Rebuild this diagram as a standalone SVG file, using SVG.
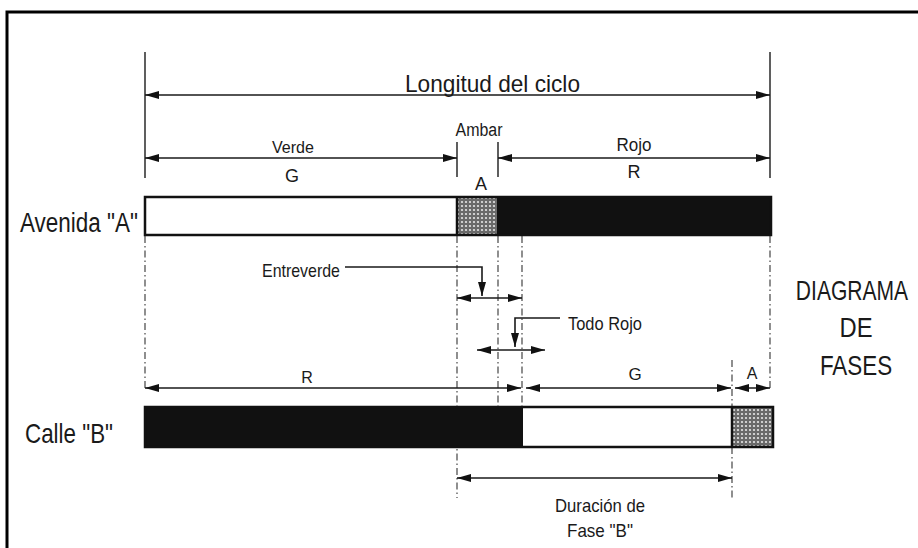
<svg xmlns="http://www.w3.org/2000/svg" width="918" height="548" viewBox="0 0 918 548">
<style>
  text { font-family: "Liberation Sans", Arial, sans-serif; fill: #1a1a1a; }
  .dim { stroke: #1a1a1a; stroke-width: 1.6; fill: none; }
  .ext { stroke: #1a1a1a; stroke-width: 1.4; fill: none; }
  .dash { stroke: #333; stroke-width: 1.1; fill: none; stroke-dasharray: 7 3 1.5 3; }
  .barline { stroke: #111; stroke-width: 2.5; }
</style>
<defs>
  <marker id="ah" viewBox="0 0 14 8" refX="14" refY="4" markerWidth="14" markerHeight="8" markerUnits="userSpaceOnUse" orient="auto-start-reverse">
    <path d="M0,0 L14,4 L0,8 z" fill="#111"/>
  </marker>
  <pattern id="stip" width="4" height="4" patternUnits="userSpaceOnUse">
    <rect width="4" height="4" fill="#6a6a6a"/>
    <circle cx="2" cy="2" r="1.1" fill="#e6e6e6"/>
  </pattern>
</defs>
<rect x="0" y="0" width="918" height="548" fill="#fff"/>
<rect x="7" y="12" width="930" height="560" fill="none" stroke="#000" stroke-width="3"/>

<g id="connectors">
  <line class="ext" x1="145" y1="52" x2="145" y2="178"/>
  <line class="ext" x1="770" y1="52" x2="770" y2="178"/>
  <line class="ext" x1="457" y1="142" x2="457" y2="177"/>
  <line class="ext" x1="498" y1="142" x2="498" y2="177"/>
  <line class="dim" x1="145" y1="95" x2="770" y2="95" marker-start="url(#ah)" marker-end="url(#ah)"/>
  <line class="dim" x1="145" y1="158" x2="457" y2="158" marker-start="url(#ah)" marker-end="url(#ah)"/>
  <line class="dim" x1="498" y1="158" x2="770" y2="158" marker-start="url(#ah)" marker-end="url(#ah)"/>
  <line class="dash" x1="145" y1="236" x2="145" y2="388"/>
  <line class="dash" x1="457" y1="236" x2="457" y2="498"/>
  <line class="dash" x1="498" y1="236" x2="498" y2="407"/>
  <line class="dash" x1="522" y1="236" x2="522" y2="407"/>
  <line class="dash" x1="770" y1="236" x2="770" y2="388"/>
  <line class="dash" x1="732" y1="360" x2="732" y2="498"/>
  <polyline class="dim" points="345,267 482,267 482,296" marker-end="url(#ah)"/>
  <line class="dim" x1="457" y1="298" x2="522" y2="298" marker-start="url(#ah)" marker-end="url(#ah)"/>
  <polyline class="dim" points="560,318 515,318 515,347" marker-end="url(#ah)"/>
  <line class="dim" x1="477" y1="350" x2="545" y2="350" marker-start="url(#ah)" marker-end="url(#ah)"/>
  <line class="dim" x1="145" y1="388" x2="521" y2="388" marker-start="url(#ah)" marker-end="url(#ah)"/>
  <line class="dim" x1="526" y1="388" x2="731" y2="388" marker-start="url(#ah)" marker-end="url(#ah)"/>
  <line class="dim" x1="735" y1="388" x2="770" y2="388" marker-start="url(#ah)" marker-end="url(#ah)"/>
  <line class="dim" x1="457" y1="478" x2="732" y2="478" marker-start="url(#ah)" marker-end="url(#ah)"/>
</g>

<g id="bar-avenida-a">
  <rect x="145" y="197" width="312" height="38" fill="#fff"/>
  <rect x="457" y="197" width="40" height="38" fill="url(#stip)"/>
  <rect x="497" y="197" width="274" height="38" fill="#111"/>
  <rect x="145" y="197" width="626" height="38" fill="none" class="barline"/>
  <line x1="457" y1="197" x2="457" y2="235" class="barline"/>
</g>

<g id="bar-calle-b">
  <rect x="145" y="407" width="378" height="40" fill="#111"/>
  <rect x="523" y="407" width="209" height="40" fill="#fff"/>
  <rect x="732" y="407" width="41" height="40" fill="url(#stip)"/>
  <rect x="145" y="407" width="628" height="40" fill="none" class="barline"/>
  <line x1="732" y1="407" x2="732" y2="447" class="barline"/>
</g>

<g id="labels">
  <text x="405" y="92" font-size="24" textLength="175" lengthAdjust="spacingAndGlyphs">Longitud del ciclo</text>
  <text x="293" y="153" font-size="17" text-anchor="middle" textLength="42" lengthAdjust="spacingAndGlyphs">Verde</text>
  <text x="292" y="182" font-size="18" text-anchor="middle">G</text>
  <text x="479" y="136" font-size="18" text-anchor="middle" textLength="47" lengthAdjust="spacingAndGlyphs">Ambar</text>
  <text x="481" y="190" font-size="18" text-anchor="middle">A</text>
  <text x="634" y="151" font-size="18" text-anchor="middle" textLength="35" lengthAdjust="spacingAndGlyphs">Rojo</text>
  <text x="634" y="178" font-size="18" text-anchor="middle">R</text>
  <text x="20" y="232" font-size="27" textLength="118" lengthAdjust="spacingAndGlyphs">Avenida "A"</text>
  <text x="262" y="277" font-size="19" textLength="78" lengthAdjust="spacingAndGlyphs">Entreverde</text>
  <text x="568" y="330" font-size="19" textLength="74" lengthAdjust="spacingAndGlyphs">Todo Rojo</text>
  <text x="307" y="383" font-size="16" text-anchor="middle">R</text>
  <text x="635" y="380" font-size="17" text-anchor="middle">G</text>
  <text x="752" y="379" font-size="16" text-anchor="middle">A</text>
  <text x="25" y="443" font-size="28" textLength="88" lengthAdjust="spacingAndGlyphs">Calle "B"</text>
  <text x="600" y="512" font-size="19" text-anchor="middle" textLength="90" lengthAdjust="spacingAndGlyphs">Duración de</text>
  <text x="600" y="537" font-size="19" text-anchor="middle" textLength="66" lengthAdjust="spacingAndGlyphs">Fase "B"</text>
  <text x="0" y="0" font-size="27" text-anchor="middle" transform="translate(852 300) scale(0.78 1)">DIAGRAMA</text>
  <text x="0" y="0" font-size="27" text-anchor="middle" transform="translate(856 337) scale(0.88 1)">DE</text>
  <text x="0" y="0" font-size="27" text-anchor="middle" transform="translate(856 375) scale(0.83 1)">FASES</text>
</g>
</svg>
